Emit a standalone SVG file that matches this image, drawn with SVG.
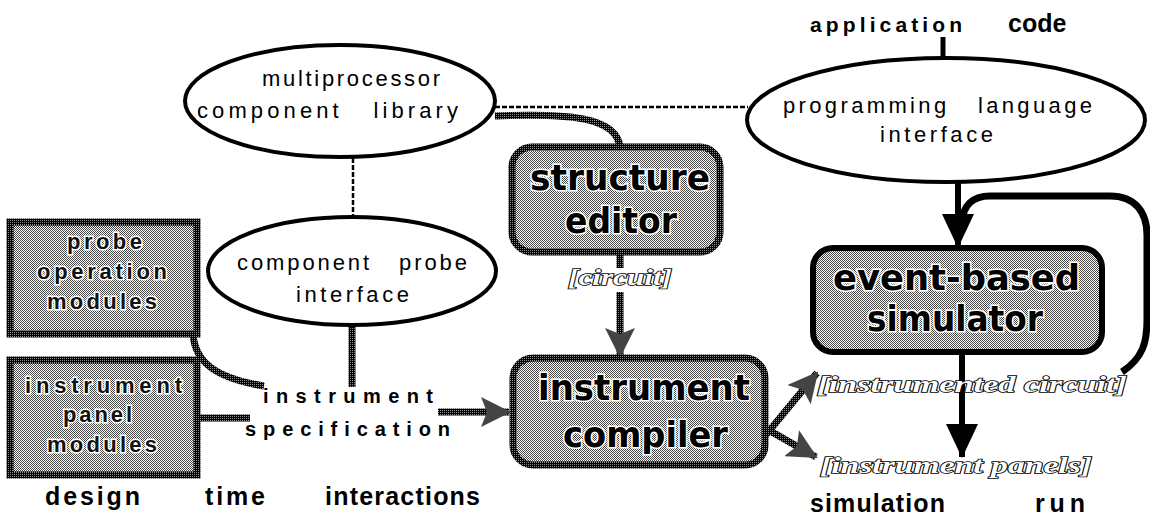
<svg xmlns="http://www.w3.org/2000/svg" width="1150" height="532" viewBox="0 0 1150 532">
<style>
.ell{fill:#fff;stroke:#000;stroke-width:4}
.et{font-family:"Liberation Sans",Arial,sans-serif;font-size:22px;fill:#000}
.box{fill:url(#st);stroke:url(#dk);stroke-width:7}
.rbox{fill:url(#st);stroke:url(#dk);stroke-width:7}
.sbox{fill:url(#st);stroke:#000;stroke-width:6}
.bt{font-family:"DejaVu Sans Condensed","DejaVu Sans",sans-serif;font-weight:bold;font-size:36px;fill:#000;stroke:#fff;stroke-width:3;paint-order:stroke}
.mt{font-family:"Liberation Sans",Arial,sans-serif;font-weight:bold;font-size:22px;fill:#111;stroke:#fff;stroke-width:3;paint-order:stroke}
.lbl{font-family:"Liberation Serif","Times New Roman",serif;font-style:italic;font-weight:bold;font-size:23px;fill:#fff;stroke:#000;stroke-width:1.6;paint-order:stroke}
.sp{font-family:"Liberation Sans",Arial,sans-serif;font-weight:bold;font-size:20px;fill:#000}
.ac{font-family:"Liberation Sans",Arial,sans-serif;font-weight:bold;font-size:21px;fill:#000}
.cd{font-family:"Liberation Sans",Arial,sans-serif;font-weight:bold;font-size:25px;fill:#000}
.ft{font-family:"Liberation Sans",Arial,sans-serif;font-weight:bold;font-size:25px;fill:#000}
.dash{fill:none;stroke:#000;stroke-width:2.5;stroke-dasharray:5 2}
.stp{fill:none;stroke:url(#dk);stroke-width:7}
.blk{fill:none;stroke:#000;stroke-width:6}
</style>
<defs>
<pattern id="st" width="2" height="2" patternUnits="userSpaceOnUse">
<rect width="2" height="2" fill="#fff"/>
<rect width="1" height="1" fill="#444"/>
<rect x="1" y="1" width="1" height="1" fill="#444"/>
</pattern>
<pattern id="dk" width="2" height="2" patternUnits="userSpaceOnUse">
<rect width="2" height="2" fill="#000"/>
<rect width="1" height="1" fill="#fff" opacity="0.55"/>
</pattern>
<marker id="ahs" viewBox="0 0 30 30" markerUnits="userSpaceOnUse" markerWidth="30" markerHeight="30" refX="28" refY="15" orient="auto">
<path d="M0,0 L30,15 L0,30 L6,15 z" fill="#444"/>
</marker>
<marker id="ahb" viewBox="0 0 34 32" markerUnits="userSpaceOnUse" markerWidth="34" markerHeight="32" refX="33" refY="16" orient="auto">
<path d="M0,0 L34,16 L0,32 z" fill="#000"/>
</marker>
</defs>

<g id="connectors">
<path class="dash" d="M495,107 L748,107"/>
<path class="stp" d="M495,116 C565,113 618,116 620,148"/>
<path class="dash" d="M353,158 L353,217"/>
<path class="stp" d="M193,334 C195,362 215,378 264,386"/>
<path class="stp" d="M197,418 L250,418"/>
<path class="stp" d="M352,325 L352,387"/>
<path class="stp" d="M438,412 L509,412" marker-end="url(#ahs)"/>
<path class="stp" d="M620,252 L620,268"/>
<path class="stp" d="M620,292 L620,356" marker-end="url(#ahs)"/>
<path class="stp" d="M745,460 L817,373" marker-end="url(#ahs)"/>
<path class="stp" d="M742,415 L816,457" marker-end="url(#ahs)"/>
<path fill="none" stroke="#000" stroke-width="5" d="M943,37 L943,60"/>
<path class="blk" d="M958,182 L958,247" marker-end="url(#ahb)"/>
<path fill="none" stroke="#000" stroke-width="7" d="M1122,372 C1143,358 1147,342 1147,320 L1147,235 C1147,212 1135,196 1110,196 L990,196 C972,196 963,206 962,222"/>
<path class="blk" d="M962,352 L962,457" marker-end="url(#ahb)"/>
</g>

<g id="mcl">
<ellipse class="ell" cx="340" cy="101" rx="155" ry="56"/>
<text class="et" x="262" y="86" textLength="178" lengthAdjust="spacing">multiprocessor</text>
<text class="et" x="197" y="118" textLength="261" lengthAdjust="spacing" xml:space="preserve">component   library</text>
</g>

<g id="pli">
<ellipse class="ell" cx="946" cy="120" rx="199" ry="62"/>
<text class="et" x="783" y="113" textLength="309" lengthAdjust="spacing" xml:space="preserve">programming   language</text>
<text class="et" x="880" y="142" textLength="113" lengthAdjust="spacing">interface</text>
</g>

<g id="appcode">
<text class="ac" x="810" y="32" textLength="152" lengthAdjust="spacing">application</text>
<text class="cd" x="1008" y="32">code</text>
</g>

<g id="cpi">
<ellipse class="ell" cx="352" cy="271" rx="144" ry="54"/>
<text class="et" x="237" y="270" textLength="230" lengthAdjust="spacing" xml:space="preserve">component   probe</text>
<text class="et" x="296" y="302" textLength="113" lengthAdjust="spacing">interface</text>
</g>

<g id="probe">
<rect class="box" x="10" y="222" width="187" height="112"/>
<text class="mt" x="67" y="249" textLength="75" lengthAdjust="spacing">probe</text>
<text class="mt" x="37" y="279" textLength="130" lengthAdjust="spacing">operation</text>
<text class="mt" x="47" y="309" textLength="110" lengthAdjust="spacing">modules</text>
</g>

<g id="panel">
<rect class="box" x="10" y="360" width="187" height="115"/>
<text class="mt" x="25" y="393" textLength="157" lengthAdjust="spacing">instrument</text>
<text class="mt" x="63" y="422" textLength="69" lengthAdjust="spacing">panel</text>
<text class="mt" x="47" y="452" textLength="110" lengthAdjust="spacing">modules</text>
</g>

<g id="spec">
<text class="sp" x="263" y="403" textLength="170" lengthAdjust="spacing">instrument</text>
<text class="sp" x="245" y="436" textLength="205" lengthAdjust="spacing">specification</text>
</g>

<g id="editor">
<rect class="rbox" x="512" y="147" width="208" height="105" rx="20"/>
<text class="bt" x="530" y="190" textLength="180" lengthAdjust="spacingAndGlyphs">structure</text>
<text class="bt" x="565" y="233" textLength="112" lengthAdjust="spacingAndGlyphs">editor</text>
</g>

<g id="compiler">
<rect class="rbox" x="513" y="358" width="252" height="107" rx="20"/>
<text class="bt" x="538" y="400" textLength="212" lengthAdjust="spacingAndGlyphs">instrument</text>
<text class="bt" x="563" y="447" textLength="165" lengthAdjust="spacingAndGlyphs">compiler</text>
</g>

<g id="simulator">
<rect class="sbox" x="813" y="248" width="289" height="104" rx="20"/>
<text class="bt" x="833" y="290" textLength="247" lengthAdjust="spacingAndGlyphs">event-based</text>
<text class="bt" x="867" y="331" textLength="176" lengthAdjust="spacingAndGlyphs">simulator</text>
</g>

<g id="labels">
<text class="lbl" x="568" y="285" textLength="104" lengthAdjust="spacingAndGlyphs">[circuit]</text>
<text class="lbl" x="817" y="392" textLength="310" lengthAdjust="spacingAndGlyphs">[instrumented circuit]</text>
<text class="lbl" x="820" y="473" textLength="272" lengthAdjust="spacingAndGlyphs">[instrument panels]</text>
</g>

<g id="footer">
<text class="ft" x="45" y="505" textLength="95" lengthAdjust="spacing">design</text>
<text class="ft" x="205" y="505" textLength="60" lengthAdjust="spacing">time</text>
<text class="ft" x="325" y="505" textLength="155" lengthAdjust="spacing">interactions</text>
<text class="ft" x="810" y="512" textLength="135" lengthAdjust="spacing">simulation</text>
<text class="ft" x="1035" y="512" textLength="50" lengthAdjust="spacing">run</text>
</g>
</svg>
